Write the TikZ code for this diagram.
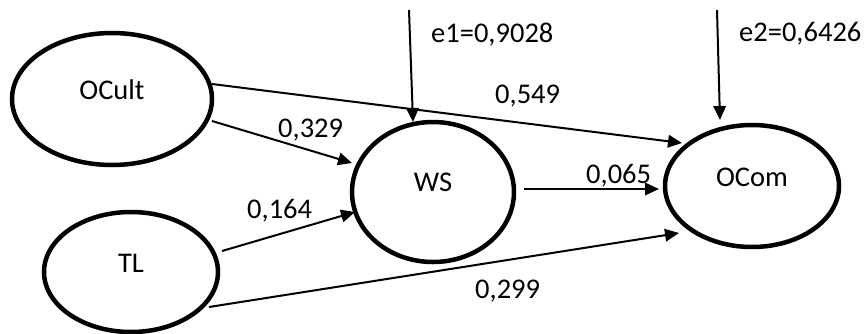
\documentclass[tikz,border=0pt]{standalone}
\usepackage{fontspec}
\setmainfont{Carlito}
\usetikzlibrary{arrows.meta,shapes.geometric,calc}
\begin{document}
\begin{tikzpicture}[x=1pt,y=-1pt,
  construct/.style={draw,ellipse,line width=4.5pt,inner sep=0pt},
  txt/.style={font=\fontsize{28.5}{34}\selectfont,inner sep=0pt},
  path/.style={line width=2pt,-{Triangle[length=14pt,width=12.5pt]}}]
\useasboundingbox (0,0) rectangle (865,333);
% latent constructs
\node[construct,minimum width=200pt,minimum height=132pt] (OCult) at (112,99) {};
\node[construct,minimum width=174pt,minimum height=120pt] (TL) at (131,272) {};
\node[construct,minimum width=162pt,minimum height=140pt] (WS) at (433,192) {};
\node[construct,minimum width=174pt,minimum height=122pt] (OCom) at (752,186) {};
% construct names
\node[txt,anchor=base] (tOCult) at (OCult.center) {OCult};
\node[txt,anchor=base] (tTL) at (TL.center) {TL};
\node[txt,anchor=base] (tWS) at ($(WS.center)+(0,-1)$) {WS};
\node[txt,anchor=base] (tOCom) at (OCom.center) {OCom};
% error terms
\coordinate (e1) at (409,10);
\coordinate (e2) at (717,10);
\draw[path] (e1) -- ($(WS.center)+(-20,-70)$);
\draw[path] (e2) -- ($(OCom.center)+(-32,-66)$);
\node[txt,anchor=base west] (le1) at (431,42) {e1=0,9028};
\node[txt,anchor=base west] (le2) at (739,41) {e2=0,6426};
% structural paths
\draw[path] ($(OCult.center)+(100,-15)$) -- ($(OCom.center)+(-70,-43)$);
\draw[path] ($(OCult.center)+(100,22)$) -- ($(WS.center)+(-81,-29)$);
\draw[path] ($(TL.center)+(91,-21)$) -- ($(WS.center)+(-78,20)$);
\draw[path] ($(TL.center)+(78,35)$) -- ($(OCom.center)+(-73,47)$);
\draw[path] ($(WS.center)+(91,-3)$) -- ($(OCom.center)+(-93,3)$);
% path coefficients
\node[txt,anchor=base west] (c549) at (495,103) {0,549};
\node[txt,anchor=base west] (c329) at (278,137) {0,329};
\node[txt,anchor=base west] (c164) at (247,218) {0,164};
\node[txt,anchor=base west] (c065) at (586,183) {0,065};
\node[txt,anchor=base west] (c299) at (475,298) {0,299};
\end{tikzpicture}
\end{document}
